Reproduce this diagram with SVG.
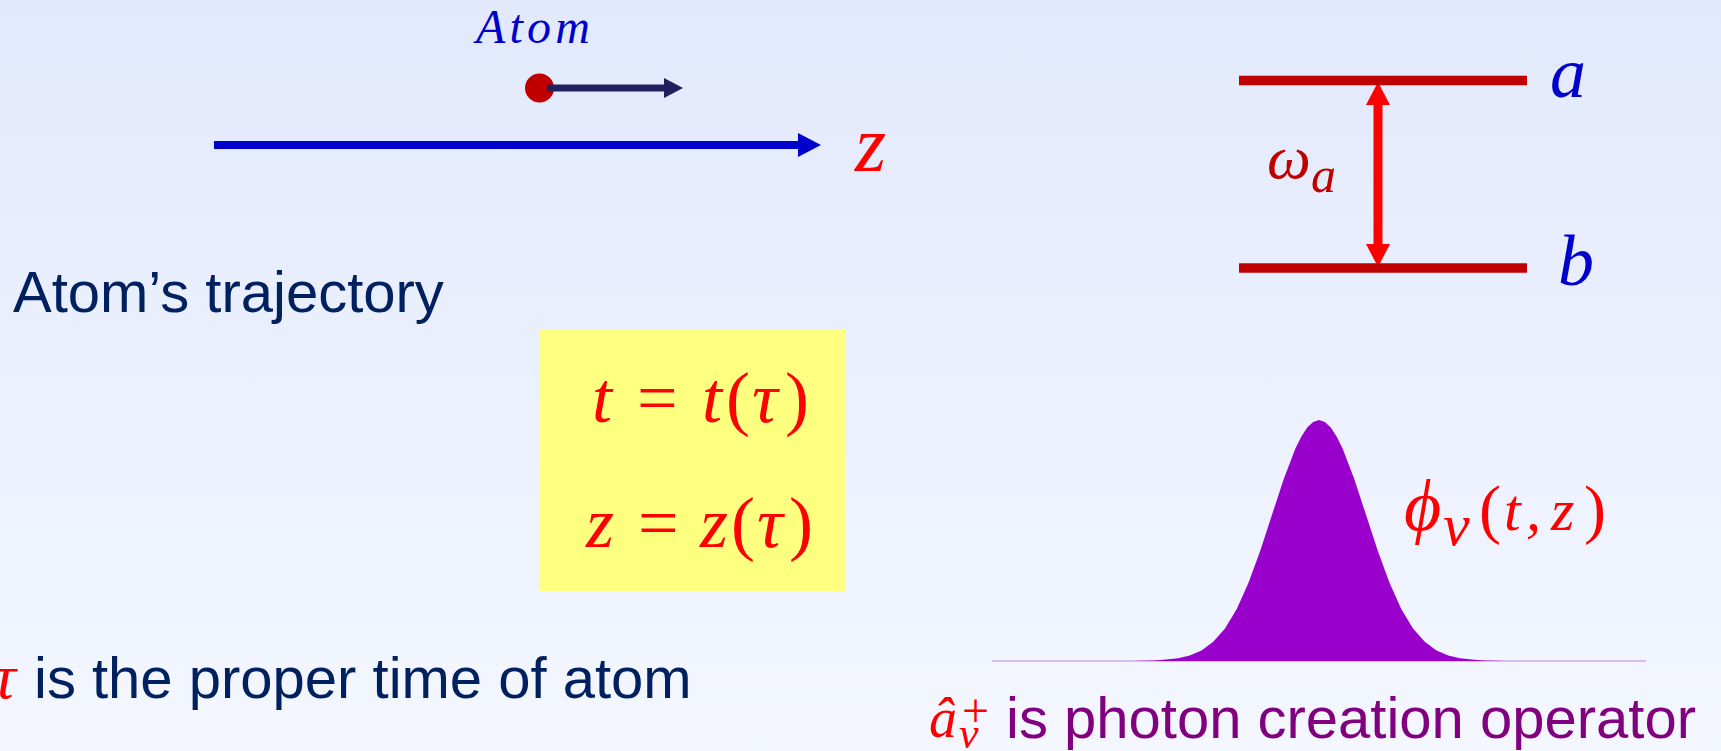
<svg xmlns="http://www.w3.org/2000/svg" width="1721" height="751" viewBox="0 0 1721 751">
<defs>
<linearGradient id="bg" x1="0" y1="0" x2="0" y2="1">
<stop offset="0" stop-color="#E2E9FC"/>
<stop offset="1" stop-color="#F4F7FF"/>
</linearGradient>
<marker id="headBlue" markerUnits="userSpaceOnUse" markerWidth="23" markerHeight="24" refX="2" refY="12" orient="auto" viewBox="0 0 23 24">
<path d="M0,0 L23,12 L0,24 z" fill="#0000CC"/>
</marker>
<marker id="headNavy" markerUnits="userSpaceOnUse" markerWidth="19" markerHeight="20" refX="2" refY="10" orient="auto" viewBox="0 0 19 20">
<path d="M0,0 L19,10 L0,20 z" fill="#202060"/>
</marker>
<marker id="headRed" markerUnits="userSpaceOnUse" markerWidth="23" markerHeight="24" refX="2" refY="12" orient="auto-start-reverse" viewBox="0 0 23 24">
<path d="M0,0 L23,12 L0,24 z" fill="#FF0000"/>
</marker>
</defs>
<style>
.sans{font-family:"Liberation Sans",Arial,sans-serif;font-size:58px}
.math{font-family:"Liberation Serif","Times New Roman",serif;font-style:italic}
.up{font-style:normal}
.navy{fill:#002060}
.red{fill:#FF0000}
.dred{fill:#C00000}
.blue{fill:#0000CC}
.purple{fill:#800080}
.level{stroke:#C00000;stroke-width:9.5;fill:none}
</style>
<rect x="0" y="0" width="1721" height="751" fill="url(#bg)"/>

<g id="connectors">
<line x1="214" y1="145" x2="800" y2="145" stroke="#0000CC" stroke-width="8" marker-end="url(#headBlue)"/>
<line x1="1378" y1="103" x2="1378" y2="246" stroke="#FF0000" stroke-width="9" marker-start="url(#headRed)" marker-end="url(#headRed)"/>
</g>

<g id="atom">
<text class="math blue" x="476" y="43" font-size="48" textLength="114" lengthAdjust="spacing">Atom</text>
<circle cx="539.5" cy="88" r="14.5" fill="#C00000"/>
<line x1="547" y1="88" x2="666" y2="88" stroke="#202060" stroke-width="7" marker-end="url(#headNavy)"/>
</g>

<g id="z-label">
<text class="math red" x="855" y="171" font-size="80">z</text>
</g>

<g id="levels">
<line class="level" x1="1239" y1="80.5" x2="1527" y2="80.5"/>
<line class="level" x1="1239" y1="268" x2="1527" y2="268"/>
<text class="math blue" x="1550" y="97" font-size="72">a</text>
<text class="math blue" x="1558" y="285" font-size="72">b</text>
<text class="math dred"><tspan x="1267" y="178" font-size="62">ω</tspan><tspan x="1311" y="192" font-size="50">a</tspan></text>
</g>

<g id="trajectory-label">
<text class="sans navy" x="13" y="312">Atom’s trajectory</text>
</g>

<g id="equations">
<rect x="539" y="329" width="306" height="262" fill="#FFFF80"/>
<text class="math red" font-size="72" y="422"><tspan x="592">t</tspan><tspan class="up" x="637">=</tspan><tspan x="702">t</tspan><tspan class="up" x="726">(</tspan><tspan x="752">τ</tspan><tspan class="up" x="785">)</tspan></text>
<text class="math red" font-size="72" y="547"><tspan x="586">z</tspan><tspan class="up" x="638">=</tspan><tspan x="700">z</tspan><tspan class="up" x="731">(</tspan><tspan x="757">τ</tspan><tspan class="up" x="789">)</tspan></text>
</g>

<g id="proper-time">
<text class="math red" x="16" y="698" font-size="64" text-anchor="end">τ</text>
<text class="sans navy" x="34" y="698">is the proper time of atom</text>
</g>

<g id="wavepacket">
<line x1="992" y1="661" x2="1646" y2="661" stroke="#CFAAE8" stroke-width="1.5"/>
<path fill="#9900CC" d="M1107.5,661 L1131,660.9 L1154.5,660.5 L1166,659.6 L1178,658.3 L1189.75,655.5 L1201.5,650.4 L1213.25,641.8 L1225,628.4 L1236.75,608.9 L1248.5,582.7 L1260.25,550.7 L1272,514.8 L1283.75,479.1 L1295.5,448.3 L1301.4,436.6 L1307.25,427.4 L1313.1,421.9 L1319,420 L1324.9,421.9 L1330.75,427.4 L1336.6,436.6 L1342.5,448.3 L1354.25,479.1 L1366,514.8 L1377.75,550.7 L1389.5,582.7 L1401.25,608.9 L1413,628.4 L1424.75,641.8 L1436.5,650.4 L1448.25,655.5 L1460,658.3 L1472,659.6 L1483.5,660.5 L1507,660.9 L1530.5,661 Z"/>
<text class="math red" font-size="60" y="530"><tspan x="1404" font-size="72">ϕ</tspan><tspan x="1443" y="545" font-size="60">ν</tspan><tspan class="up" x="1479" y="531" font-size="66">(</tspan><tspan x="1504" y="530">t</tspan><tspan x="1526" y="530">,</tspan><tspan x="1551" y="530">z</tspan><tspan class="up" x="1584" y="531" font-size="66">)</tspan></text>
</g>

<g id="operator-label">
<text class="math red"><tspan x="929" y="737" font-size="56">â</tspan><tspan x="959" y="748" font-size="44">ν</tspan><tspan class="up" x="962" y="727" font-size="48">+</tspan></text>
<text class="sans purple" x="1006" y="738">is photon creation operator</text>
</g>
</svg>
